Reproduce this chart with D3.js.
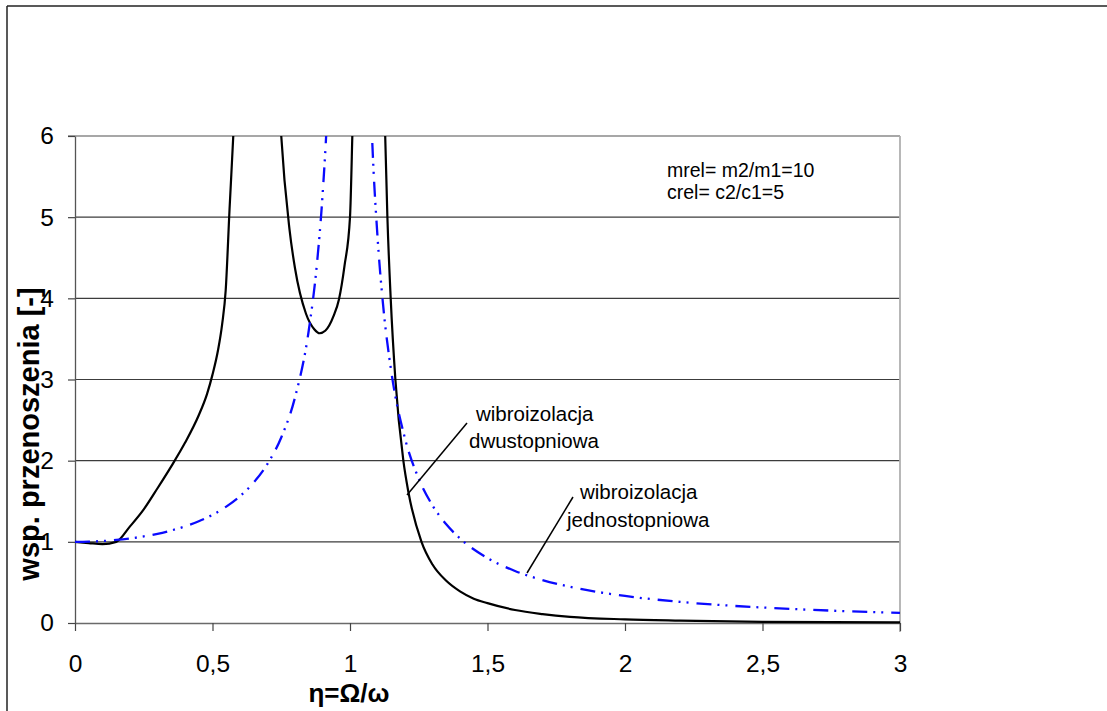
<!DOCTYPE html>
<html>
<head>
<meta charset="utf-8">
<script src="https://cdn.jsdelivr.net/npm/d3@7"></script>
<style>
  body { margin: 0; background: #fff; }
  svg { display: block; font-family: "Liberation Sans", Arial, sans-serif; }
</style>
</head>
<body>
<svg id="chart" width="1107" height="711"></svg>
<script>
// --- data (eta = Omega/omega, T = transmissibility) ---
// null marks a break where the curve leaves the plot (resonance)
var etaOne = [0, 0.05, 0.1, 0.15, 0.2, 0.25, 0.3, 0.35, 0.4, 0.45, 0.5, 0.55, 0.6, 0.65, 0.7, 0.75, 0.8, 0.85, 0.88, 0.9, 0.92, 0.95,
              null,
              1.05, 1.08, 1.1, 1.12, 1.15, 1.2, 1.25, 1.3, 1.35, 1.4, 1.5, 1.6, 1.7, 1.8, 1.9, 2.0, 2.2, 2.4, 2.6, 2.8, 3.0];
var valOne = [1, 1.003, 1.01, 1.023, 1.042, 1.067, 1.099, 1.14, 1.19, 1.254, 1.333, 1.434, 1.563, 1.732, 1.961, 2.286, 2.778, 3.604, 4.433, 5.263, 6.51, 10.26,
              null,
              9.76, 6.01, 4.762, 3.931, 3.101, 2.273, 1.778, 1.449, 1.216, 1.042, 0.8, 0.641, 0.529, 0.446, 0.383, 0.333, 0.26, 0.21, 0.174, 0.146, 0.125];

var etaTwo = [0, 0.05, 0.1, 0.15, 0.2, 0.25, 0.3, 0.35, 0.4, 0.45, 0.48, 0.5, 0.52, 0.535, 0.548, 0.562, 0.577, 0.6,
              null,
              0.72, 0.75, 0.78, 0.8, 0.84, 0.87, 0.89, 0.91, 0.94, 0.96, 0.98, 1.0, 1.01, 1.03,
              null,
              1.1, 1.12, 1.128, 1.136, 1.148, 1.165, 1.194, 1.212, 1.26, 1.3, 1.35, 1.4, 1.45, 1.5, 1.6, 1.7, 1.8, 2.0, 2.2, 2.5, 3.0];
var valTwo = [1, 0.985, 0.972, 1.0, 1.19, 1.4, 1.66, 1.93, 2.22, 2.56, 2.82, 3.06, 3.36, 3.68, 4.1, 5.1, 6.1, 8.0,
              null,
              8.3, 6.0, 4.85, 4.37, 3.81, 3.62, 3.57, 3.6, 3.78, 3.99, 4.4, 5.0, 6.2, 8.5,
              null,
              9.6, 6.8, 6.0, 5.0, 4.0, 3.0, 2.0, 1.62, 1.0, 0.72, 0.52, 0.39, 0.3, 0.245, 0.16, 0.11, 0.075, 0.045, 0.03, 0.015, 0.008];

var xTicks = [0, 0.5, 1, 1.5, 2, 2.5, 3];
var yTicks = [0, 1, 2, 3, 4, 5, 6];

var svg = d3.select('#chart');

// outer frame (only top and left edges are visible in the picture)
svg.append('line').attr('x1', 7).attr('x2', 1107).attr('y1', 6).attr('y2', 6)
  .attr('stroke', '#222').attr('stroke-width', 1.5);
svg.append('line').attr('x1', 7).attr('x2', 7).attr('y1', 6).attr('y2', 711)
  .attr('stroke', '#222').attr('stroke-width', 1.5);

var x = d3.scaleLinear().domain([0, 3]).range([75, 900]);
var y = d3.scaleLinear().domain([0, 6]).range([623, 136]);

// horizontal grid
svg.append('g')
  .selectAll('line')
  .data(yTicks.filter(function(d) { return d > 0 && d < 6; }))
  .enter().append('line')
  .attr('x1', x(0)).attr('x2', x(3))
  .attr('y1', function(d) { return y(d); }).attr('y2', function(d) { return y(d); })
  .attr('stroke', '#3c3c3c').attr('stroke-width', 1.2);

// top and right border of the plot area
svg.append('line').attr('x1', x(0) - 7).attr('x2', x(3)).attr('y1', y(6)).attr('y2', y(6))
  .attr('stroke', '#8a8a8a').attr('stroke-width', 1.3);
svg.append('line').attr('x1', x(3)).attr('x2', x(3)).attr('y1', y(6)).attr('y2', y(0) + 9)
  .attr('stroke', '#b0b0b0').attr('stroke-width', 1.8);

// axes
var fmt = function(d) { return String(d).replace('.', ','); };

svg.append('g')
  .attr('transform', 'translate(0,' + y(0) + ')')
  .call(d3.axisBottom(x).tickValues(xTicks).tickFormat(fmt).tickSize(8).tickPadding(24).tickSizeOuter(0))
  .call(function(g) {
    g.select('.domain').attr('stroke', '#6a6a6a').attr('stroke-width', 1.3);
    g.selectAll('line').attr('stroke', '#444').attr('stroke-width', 1.2);
    g.selectAll('text').attr('fill', '#000').attr('font-size', 24.5).attr('font-family', 'Liberation Sans, Arial, sans-serif');
  });

svg.append('g')
  .attr('transform', 'translate(' + x(0) + ',0)')
  .call(d3.axisLeft(y).tickValues(yTicks).tickFormat(fmt).tickSize(7).tickPadding(14).tickSizeOuter(0))
  .call(function(g) {
    g.select('.domain').attr('stroke', '#555').attr('stroke-width', 1.3);
    g.selectAll('line').attr('stroke', '#444').attr('stroke-width', 1.2);
    g.selectAll('text').attr('fill', '#000').attr('font-size', 24.5).attr('font-family', 'Liberation Sans, Arial, sans-serif');
  });

// clip curves to the plot area
svg.append('clipPath').attr('id', 'plotclip')
  .append('rect').attr('x', x(0)).attr('y', y(6)).attr('width', x(3) - x(0)).attr('height', y(0) - y(6) + 2);

function pts(etas, vals) {
  return etas.map(function(e, i) { return { e: e, v: vals[i] }; });
}

var line = d3.line()
  .defined(function(d) { return d.e !== null && d.v !== null; })
  .x(function(d) { return x(d.e); })
  .y(function(d) { return y(d.v); })
  .curve(d3.curveMonotoneX);

var curves = svg.append('g').attr('clip-path', 'url(#plotclip)');

curves.append('path')
  .attr('d', line(pts(etaTwo, valTwo)))
  .attr('fill', 'none')
  .attr('stroke', '#000')
  .attr('stroke-width', 2.2);

curves.append('path')
  .attr('d', line(pts(etaOne, valOne)))
  .attr('fill', 'none')
  .attr('stroke', '#0a0aff')
  .attr('stroke-width', 2.3)
  .attr('stroke-dasharray', '15,6,2,6,2,8');

// parameter note
svg.append('text').attr('x', 667).attr('y', 177).attr('font-size', 19.5).text('mrel= m2/m1=10');
svg.append('text').attr('x', 667).attr('y', 199).attr('font-size', 19.5).text('crel= c2/c1=5');

// curve labels with leader lines
svg.append('text').attr('x', 476).attr('y', 421).attr('font-size', 20.5).text('wibroizolacja');
svg.append('text').attr('x', 469).attr('y', 448).attr('font-size', 20.5).text('dwustopniowa');
svg.append('line').attr('x1', 467).attr('y1', 423).attr('x2', 407).attr('y2', 495)
  .attr('stroke', '#000').attr('stroke-width', 1.5);

svg.append('text').attr('x', 580).attr('y', 499).attr('font-size', 20.5).text('wibroizolacja');
svg.append('text').attr('x', 567).attr('y', 527).attr('font-size', 20.5).text('jednostopniowa');
svg.append('line').attr('x1', 573).attr('y1', 497).attr('x2', 527).attr('y2', 573)
  .attr('stroke', '#000').attr('stroke-width', 1.5);

// axis titles
svg.append('text')
  .attr('transform', 'translate(39,434) rotate(-90)')
  .attr('text-anchor', 'middle')
  .attr('font-size', 29).attr('font-weight', 'bold')
  .text('wsp. przenoszenia [-]');

svg.append('text')
  .attr('x', 349).attr('y', 702)
  .attr('text-anchor', 'middle')
  .attr('font-size', 26).attr('font-weight', 'bold')
  .text('η=Ω/ω');
</script>
</body>
</html>
